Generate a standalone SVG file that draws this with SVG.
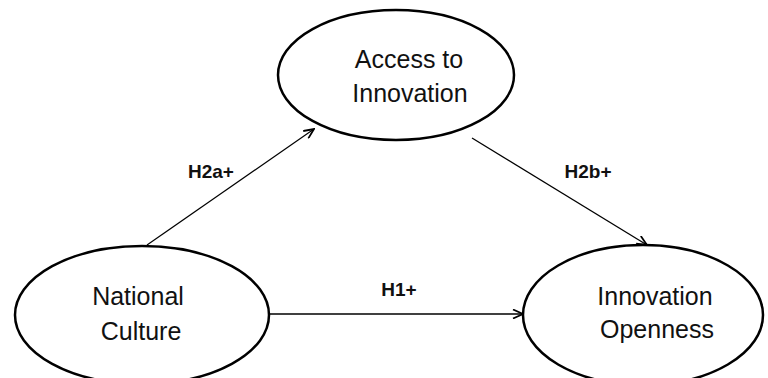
<svg xmlns="http://www.w3.org/2000/svg" width="768" height="378" viewBox="0 0 768 378">
<defs>
<style>
.node ellipse{fill:#fff;stroke:#000;stroke-width:2.5}
.lbl{font-family:"Liberation Sans",Arial,sans-serif;font-size:25px;fill:#111;text-anchor:middle}
.hyp{font-family:"Liberation Sans",Arial,sans-serif;font-size:19px;font-weight:bold;fill:#111;text-anchor:middle}
.edge{stroke:#000;stroke-width:1.3;fill:none;marker-end:url(#arr)}
</style>
<marker id="arr" viewBox="0 0 12 10" refX="11" refY="5" markerWidth="12" markerHeight="10" markerUnits="userSpaceOnUse" orient="auto">
<path d="M1,0.5 L11,5 L1,9.5" fill="none" stroke="#000" stroke-width="1.8"/>
</marker>
</defs>
<rect width="768" height="378" fill="#fff"/>
<g id="connectors">
<line class="edge" x1="147" y1="245" x2="314" y2="129"/>
<line class="edge" x1="472" y1="138" x2="647" y2="245"/>
<line class="edge" x1="270" y1="314" x2="523" y2="314"/>
<text class="hyp" x="211" y="178">H2a+</text>
<text class="hyp" x="588" y="178">H2b+</text>
<text class="hyp" x="399" y="296">H1+</text>
</g>
<g id="access" class="node">
<ellipse cx="396" cy="75" rx="118" ry="65"/>
<text class="lbl" x="409" y="68">Access to</text>
<text class="lbl" x="410" y="102">Innovation</text>
</g>
<g id="culture" class="node">
<ellipse cx="142" cy="315" rx="127" ry="69"/>
<text class="lbl" x="138" y="305">National</text>
<text class="lbl" x="141" y="340">Culture</text>
</g>
<g id="openness" class="node">
<ellipse cx="643" cy="315" rx="120" ry="70"/>
<text class="lbl" x="655" y="305">Innovation</text>
<text class="lbl" x="657" y="338">Openness</text>
</g>
</svg>
